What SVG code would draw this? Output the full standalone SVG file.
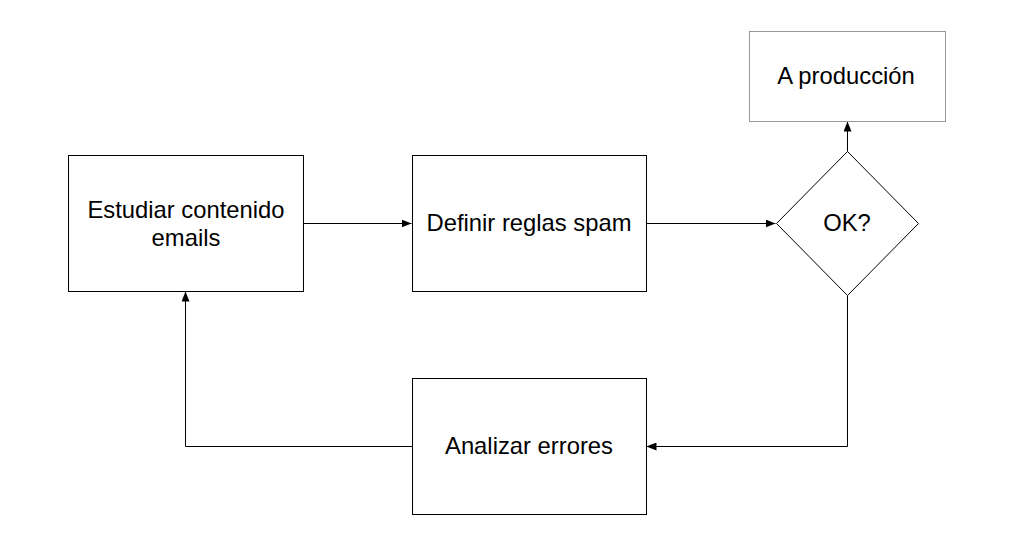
<svg xmlns="http://www.w3.org/2000/svg" width="1010" height="556" viewBox="0 0 1010 556">
<style>
.box{fill:#fff;stroke:#000;stroke-width:1}
.gbox{fill:#fff;stroke:#999;stroke-width:1}
.lbl{font-family:"Liberation Sans",Arial,sans-serif;font-size:23.8px;fill:#000;text-anchor:middle}
.conn{fill:none;stroke:#000;stroke-width:1}
</style>
<defs>
<marker id="arr" viewBox="0 0 10 8" refX="10" refY="4" markerWidth="10" markerHeight="8" markerUnits="userSpaceOnUse" orient="auto">
<path d="M0,0 L10,4 L0,8 Z" fill="#000"/>
</marker>
</defs>
<rect width="1010" height="556" fill="#fff"/>
<g id="connectors">
<path class="conn" d="M303.5,223.5 H411.5" marker-end="url(#arr)"/>
<path class="conn" d="M646.5,223.5 H775.5" marker-end="url(#arr)"/>
<path class="conn" d="M847.5,151.5 V121.5" marker-end="url(#arr)"/>
<path class="conn" d="M847.5,295.5 V446.5 H646.5" marker-end="url(#arr)"/>
<path class="conn" d="M412.5,446.5 H185.5 V291.5" marker-end="url(#arr)"/>
</g>
<g id="estudiar">
<rect class="box" x="68.5" y="155.5" width="235" height="136"/>
<text class="lbl" x="186" y="218">Estudiar contenido</text>
<text class="lbl" x="186" y="246">emails</text>
</g>
<g id="definir">
<rect class="box" x="412.5" y="155.5" width="234" height="136"/>
<text class="lbl" x="529" y="231">Definir reglas spam</text>
</g>
<g id="ok">
<polygon class="box" points="847.5,151.5 918.5,223.5 847.5,295.5 776.5,223.5"/>
<text class="lbl" x="847" y="231">OK?</text>
</g>
<g id="produccion">
<rect class="gbox" x="749.5" y="31.5" width="196" height="90"/>
<text class="lbl" x="846" y="84">A producción</text>
</g>
<g id="analizar">
<rect class="box" x="412.5" y="378.5" width="234" height="136"/>
<text class="lbl" x="529" y="454">Analizar errores</text>
</g>
</svg>
